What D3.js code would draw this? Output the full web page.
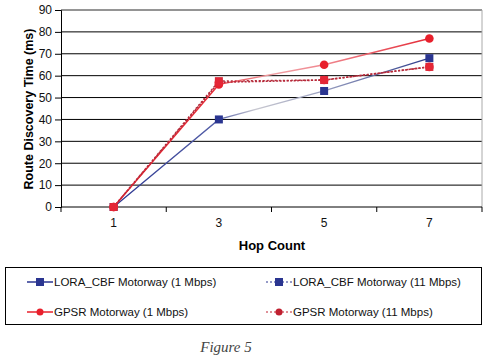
<!DOCTYPE html>
<html>
<head>
<meta charset="utf-8">
<script src="https://cdn.jsdelivr.net/npm/d3@7"></script>
<style>
  body { margin: 0; background: #fff; }
  svg { display: block; font-family: 'Liberation Sans', Arial, sans-serif; }
</style>
</head>
<body>
<svg class="chart" width="490" height="360"></svg>
<script>
// data
const hops = ['1', '3', '5', '7'];
const yTicks = [0, 10, 20, 30, 40, 50, 60, 70, 80, 90];
const loraSlow = [0, 40, 53, 68];
const loraFast = [0, 57.5, 58, 64];
const gpsrSlow = [0, 56, 65, 77];
const gpsrFast = [0, 57, 58, 64];
const legendNames = [
  'LORA_CBF Motorway (1 Mbps)',
  'LORA_CBF  Motorway (11 Mbps)',
  'GPSR Motorway (1 Mbps)',
  'GPSR Motorway (11 Mbps)'
];

const svg = d3.select('svg.chart');
const plotL = 61, plotR = 482, plotT = 10, plotB = 207;

const x = d3.scaleBand().domain(hops).range([plotL, plotR]);
const y = d3.scaleLinear().domain([0, 90]).range([plotB, plotT]);

// gridlines
svg.append('g').selectAll('line')
  .data(yTicks.filter(d => d > 0))
  .enter().append('line')
  .attr('x1', plotL).attr('x2', plotR)
  .attr('y1', d => y(d)).attr('y2', d => y(d))
  .style('stroke', '#000').style('stroke-width', 1);

// frame right side + top (grey)
svg.append('path')
  .attr('d', `M${plotL},${plotT}H${plotR}V${plotB}`)
  .style('fill', 'none').style('stroke', '#aaa').style('stroke-width', 1);

// y axis
const yAxis = svg.append('g')
  .attr('transform', `translate(${plotL},0)`)
  .call(d3.axisLeft(y).tickValues(yTicks).tickSize(6).tickPadding(3));
yAxis.select('.domain').style('stroke', '#000');
yAxis.selectAll('text').style('font-size', '12px').style('fill', '#111')
  .style('font-family', "'Liberation Sans', Arial, sans-serif");

// x axis with ticks between categories
const xAxis = svg.append('g').attr('transform', `translate(0,${plotB})`);
xAxis.append('line').attr('x1', plotL).attr('x2', plotR)
  .style('stroke', '#000');
const bounds = hops.map(h => x(h)).concat([plotR]);
xAxis.selectAll('line.tk').data(bounds).enter().append('line')
  .attr('class', 'tk')
  .attr('x1', d => d).attr('x2', d => d).attr('y1', 0).attr('y2', 5)
  .style('stroke', '#000');
xAxis.selectAll('text').data(hops).enter().append('text')
  .attr('x', d => x(d) + x.bandwidth() / 2)
  .attr('y', 20)
  .attr('text-anchor', 'middle')
  .style('font-size', '12px').style('fill', '#111')
  .text(d => d);

// axis titles
svg.append('text')
  .attr('x', 272).attr('y', 250)
  .attr('text-anchor', 'middle')
  .style('font-size', '13px').style('font-weight', 'bold')
  .text('Hop Count');

svg.append('text')
  .attr('transform', 'translate(33,109) rotate(-90)')
  .attr('text-anchor', 'middle')
  .style('font-size', '12.5px').style('font-weight', 'bold')
  .text('Route Discovery Time (ms)');

const cx = (d, i) => x(hops[i]) + x.bandwidth() / 2;
const line = d3.line().x(cx).y(d => y(d));

// colour gradients along the solid lines (faded middle segments)
const defs = svg.append('defs');
function grad(id, stops) {
  const g = defs.append('linearGradient').attr('id', id)
    .attr('gradientUnits', 'userSpaceOnUse')
    .attr('x1', cx(0, 0)).attr('x2', cx(0, 3)).attr('y1', 0).attr('y2', 0);
  stops.forEach(s => g.append('stop').attr('offset', s[0]).attr('stop-color', s[1]));
}
grad('gBlue', [[0, '#2a3590'], [0.33, '#5560a8'], [0.45, '#c8c8d0'], [0.66, '#9aa0c0'], [1, '#2a3a8a']]);
grad('gRed', [[0, '#e8202c'], [0.33, '#e8303a'], [0.5, '#f0a0a4'], [0.66, '#f08890'], [1, '#e42a36']]);

// lines
svg.append('path').datum(loraSlow).attr('d', line)
  .style('fill', 'none').style('stroke', 'url(#gBlue)').style('stroke-width', 1.3);
svg.append('path').datum(loraFast).attr('d', line)
  .style('fill', 'none').style('stroke', '#b0303c').style('stroke-width', 1.5)
  .style('stroke-dasharray', '2,2');
svg.append('path').datum(gpsrSlow).attr('d', line)
  .style('fill', 'none').style('stroke', 'url(#gRed)').style('stroke-width', 1.4);
svg.append('path').datum(gpsrFast).attr('d', line)
  .style('fill', 'none').style('stroke', '#b8283a').style('stroke-width', 1.6)
  .style('stroke-dasharray', '2,1.5');

// markers
function squares(data, color) {
  svg.append('g').selectAll('rect').data(data).enter().append('rect')
    .attr('x', (d, i) => cx(d, i) - 4).attr('y', d => y(d) - 4)
    .attr('width', 8).attr('height', 8)
    .style('fill', color);
}
function circles(data, color) {
  svg.append('g').selectAll('circle').data(data).enter().append('circle')
    .attr('cx', cx).attr('cy', d => y(d)).attr('r', 4.3)
    .style('fill', color);
}
squares(loraSlow, '#2a3590');
squares(loraFast, '#d82838');
circles(gpsrSlow, '#e8202c');
circles(gpsrFast, '#e42636');

// legend
const leg = svg.append('g');
leg.append('rect').attr('x', 5.5).attr('y', 267.5).attr('width', 476).attr('height', 57)
  .style('fill', 'none').style('stroke', '#000').style('stroke-width', 1);

const legItems = [
  { col: 0, row: 0, color: '#2a3590', dash: null, shape: 'sq' },
  { col: 1, row: 0, color: '#2a3590', dash: '2,2', shape: 'sq' },
  { col: 0, row: 1, color: '#e8202c', dash: null, shape: 'ci' },
  { col: 1, row: 1, color: '#c02030', dash: '2,2', shape: 'ci' }
];
legItems.forEach((it, i) => {
  const lx = it.col ? 266 : 27;
  const ly = it.row ? 312 : 282;
  const g = leg.append('g').attr('transform', `translate(${lx},${ly})`);
  g.append('line').attr('x1', 0).attr('x2', 26).attr('y1', 0).attr('y2', 0)
    .style('stroke', it.color).style('stroke-width', it.dash ? 1 : 1.5)
    .style('stroke-dasharray', it.dash);
  if (it.shape === 'sq') {
    g.append('rect').attr('x', 9).attr('y', -4).attr('width', 8).attr('height', 8)
      .style('fill', it.color);
  } else {
    g.append('circle').attr('cx', 13).attr('cy', 0).attr('r', 3.5)
      .style('fill', it.color);
  }
  g.append('text').attr('x', 27).attr('y', 4)
    .style('font-size', '11.5px').style('fill', '#111')
    .text(legendNames[i]);
});

// caption
svg.append('text')
  .attr('x', 226).attr('y', 352)
  .attr('text-anchor', 'middle')
  .style('font-family', "'Liberation Serif', 'DejaVu Serif', serif")
  .style('font-style', 'italic').style('font-size', '15px').style('fill', '#444')
  .text('Figure 5');
</script>
</body>
</html>
